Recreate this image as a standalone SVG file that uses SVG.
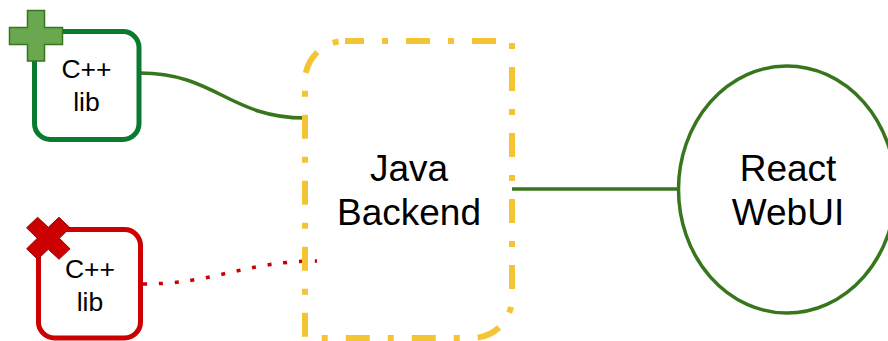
<svg xmlns="http://www.w3.org/2000/svg" width="888" height="341" viewBox="0 0 888 341">
<style>
text{font-family:"Liberation Sans",Arial,sans-serif;fill:#000;text-anchor:middle}
.s{font-size:26.5px}
.l{font-size:37px}
.c{fill:none;stroke-width:3.500}
</style>
<rect width="888" height="341" fill="#fff"/>
<g id="connectors">
<path class="c" d="M140 73C215 73 230 118 305 118" stroke="#38761d"/>
<path class="c" d="M143 284C215 284 245 261 317 261" stroke="#cc0000" stroke-dasharray="4 11.800"/>
<path class="c" d="M512 189H678" stroke="#38761d"/>
</g>
<g id="node-cpp-plus">
<rect x="34.500" y="31.500" width="104.500" height="108" rx="16" fill="#fff" stroke="#0a7a2e" stroke-width="5"/>
<text class="s" x="86.500" y="78">C++</text>
<text class="s" x="86.500" y="111">lib</text>
<path d="M27.500 10.500H44.500V27.500H62.500V44.500H44.500V61H27.500V44.500H9.500V27.500H27.500Z" fill="#6aa84f" stroke="#38761d" stroke-width="1.500"/>
</g>
<g id="node-cpp-x">
<rect x="38.500" y="229.500" width="102" height="108.500" rx="16" fill="#fff" stroke="#cc0000" stroke-width="5"/>
<text class="s" x="90" y="278">C++</text>
<text class="s" x="90" y="311">lib</text>
<path d="M48.300 227.300L59 217.300L70 227.800L59.300 238.300L70 248.800L59 259.300L48.300 249.300L37.600 259.300L26.600 248.800L37.300 238.300L26.600 227.800L37.600 217.300Z" fill="#cc0000" stroke="#990000" stroke-width="1"/>
</g>
<g id="node-java">
<path d="M345 41H512V298A40 40 0 0 1 472 338H305V81A40 40 0 0 1 345 41Z" fill="none" stroke="#f3c534" stroke-width="6" stroke-dasharray="24 18 6 18" stroke-dashoffset="5"/>
<text class="l" x="409" y="181">Java</text>
<text class="l" x="409" y="225">Backend</text>
</g>
<g id="node-react">
<ellipse cx="787" cy="189.500" rx="108.500" ry="123.500" fill="#fff" stroke="#38761d" stroke-width="3.500"/>
<text class="l" x="788" y="181">React</text>
<text class="l" x="788" y="225">WebUI</text>
</g>
</svg>
